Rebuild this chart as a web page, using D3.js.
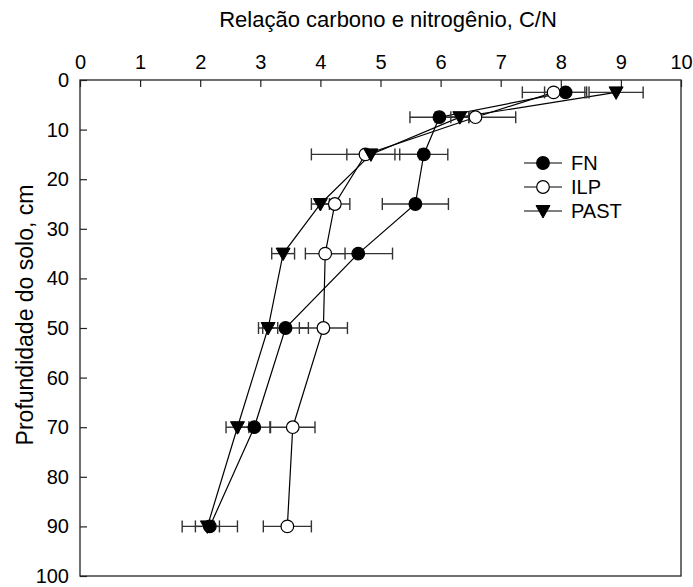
<!DOCTYPE html>
<html><head><meta charset="utf-8">
<script src="https://cdn.jsdelivr.net/npm/d3@7"></script>
<style>body{margin:0;background:#fff}svg{display:block}text{font-family:Arial,"Liberation Sans",sans-serif}</style>
</head><body>
<svg id="c" width="693" height="587"></svg>
<script>
const depths = [2.5, 7.5, 15, 25, 35, 50, 70, 90];
const fnValues = [8.08, 5.98, 5.72, 5.58, 4.63, 3.42, 2.90, 2.16];
const fnErrors = [0.35, 0.49, 0.40, 0.55, 0.57, 0.38, 0.26, 0.46];
const ilpValues = [7.88, 6.58, 4.75, 4.24, 4.08, 4.05, 3.54, 3.45];
const ilpErrors = [0.52, 0.67, 0.90, 0.25, 0.33, 0.40, 0.37, 0.40];
const pastValues = [8.92, 6.32, 4.84, 4.00, 3.38, 3.13, 2.62, 2.12];
const pastErrors = [0.45, 0.15, 0.40, 0.15, 0.19, 0.16, 0.19, 0.20];
const seriesNames = ["FN", "ILP", "PAST"];
const xTicks = [0,1,2,3,4,5,6,7,8,9,10];
const yTicks = [0,10,20,30,40,50,60,70,80,90,100];
const xTitle = "Relação carbono e nitrogênio, C/N";
const yTitle = "Profundidade do solo, cm";

const svg = d3.select("#c");
const L = 80, R = 681, T = 80, B = 576;
const x = d3.scaleLinear().domain([0,10]).range([L,R]);
const y = d3.scaleLinear().domain([0,100]).range([T,B]);
const fs = 20;

const series = [
  {name: seriesNames[0], v: fnValues, e: fnErrors, shape: "circle", fill: "#000"},
  {name: seriesNames[1], v: ilpValues, e: ilpErrors, shape: "circle", fill: "#fff"},
  {name: seriesNames[2], v: pastValues, e: pastErrors, shape: "tri", fill: "#000"}
];

// frame
svg.append("rect").attr("x",L).attr("y",T).attr("width",R-L).attr("height",B-T)
  .attr("fill","none").attr("stroke","#222").attr("stroke-width",1.3);

// top axis
const xa = svg.append("g").attr("transform",`translate(0,${T})`)
  .call(d3.axisTop(x).tickValues(xTicks).tickSizeInner(-7).tickSizeOuter(0).tickPadding(11));
xa.select(".domain").remove();
xa.selectAll("line").attr("stroke","#222").attr("stroke-width",1.2);
xa.selectAll("text").attr("font-size",fs).attr("fill","#000").style("font-family","Arial, 'Liberation Sans', sans-serif");

// left axis
const ya = svg.append("g").attr("transform",`translate(${L},0)`)
  .call(d3.axisLeft(y).tickValues(yTicks).tickSizeInner(-7).tickSizeOuter(0).tickPadding(11));
ya.select(".domain").remove();
ya.selectAll("line").attr("stroke","#222").attr("stroke-width",1.2);
ya.selectAll("text").attr("font-size",fs).attr("fill","#000").style("font-family","Arial, 'Liberation Sans', sans-serif");

// titles
svg.append("text").attr("x",388).attr("y",27).attr("text-anchor","middle")
  .attr("font-size",22).text(xTitle);
svg.append("text").attr("transform",`translate(33,315) rotate(-90)`)
  .attr("text-anchor","middle").attr("font-size",23).text(yTitle);

const line = d3.line().x(d=>x(d[0])).y(d=>y(d[1]));
// lines
series.forEach(s=>{
  svg.append("path").datum(s.v.map((v,i)=>[v,depths[i]]))
    .attr("d",line).attr("fill","none").attr("stroke","#000").attr("stroke-width",1.2);
});
// error bars
series.forEach(s=>{
  const g = svg.append("g").attr("stroke","#333").attr("stroke-width",1.4);
  s.v.forEach((v,i)=>{
    const yy = y(depths[i]);
    g.append("line").attr("x1",x(v-s.e[i])).attr("x2",x(v+s.e[i])).attr("y1",yy).attr("y2",yy);
    [v-s.e[i], v+s.e[i]].forEach(xv=>{
      g.append("line").attr("x1",x(xv)).attr("x2",x(xv)).attr("y1",yy-6).attr("y2",yy+6);
    });
  });
});
// markers
function marker(g, s, cx, cy){
  if(s.shape==="circle"){
    g.append("circle").attr("cx",cx).attr("cy",cy).attr("r",6.3)
      .attr("fill",s.fill).attr("stroke","#000").attr("stroke-width",1.2);
  } else {
    g.append("path").attr("d",`M${cx-7},${cy-5.5}L${cx+7},${cy-5.5}L${cx},${cy+7}Z`)
      .attr("fill",s.fill).attr("stroke","#000").attr("stroke-width",1);
  }
}
series.forEach(s=>{
  const g = svg.append("g");
  s.v.forEach((v,i)=>marker(g, s, x(v), y(depths[i])));
});

// legend
const legY = [163, 187, 211];
series.forEach((s,i)=>{
  const g = svg.append("g");
  g.append("line").attr("x1",524).attr("x2",562).attr("y1",legY[i]).attr("y2",legY[i])
    .attr("stroke","#000").attr("stroke-width",1.2);
  marker(g, s, 543, legY[i]);
  g.append("text").attr("x",571).attr("y",legY[i]).attr("dy","0.36em")
    .attr("font-size",fs).text(s.name);
});
</script>
</body></html>
